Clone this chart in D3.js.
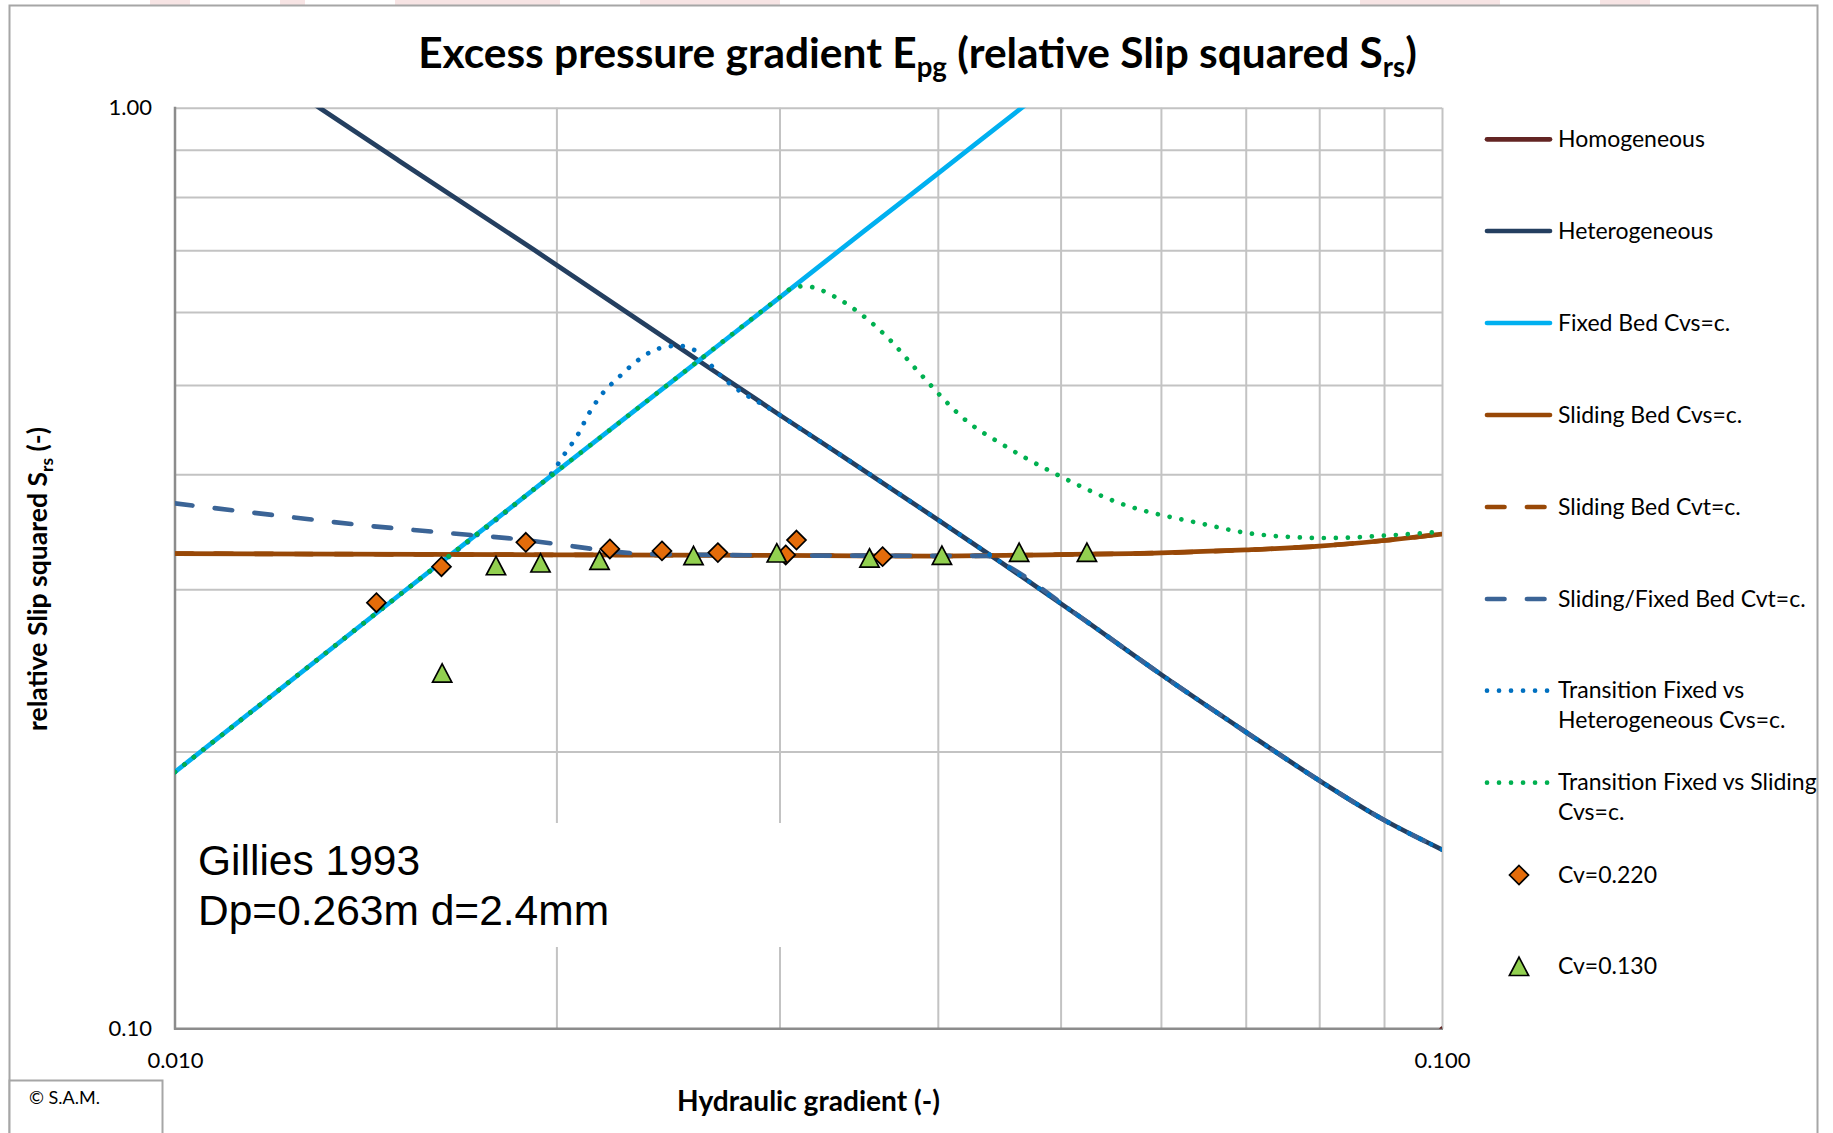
<!DOCTYPE html>
<html><head><meta charset="utf-8">
<script src="https://cdn.jsdelivr.net/npm/d3@7"></script>
<style>
body{margin:0;background:#fff;}
svg{display:block;}
text{font-family:Lato,"Open Sans",sans-serif;fill:#000;}
</style>
</head><body>
<svg id="chart" width="1833" height="1133"></svg>
<script>
// ---------- data ----------
const xDomain = [0.01, 0.1];
const yDomain = [0.1, 1.0];
const xTickValues = [0.01, 0.1];
const xTickLabels = ["0.010", "0.100"];
const yTickValues = [0.1, 1.0];
const yTickLabels = ["0.10", "1.00"];
const xGridValues = [0.02, 0.03, 0.04, 0.05, 0.06, 0.07, 0.08, 0.09, 0.1];
const yGridValues = [0.2, 0.3, 0.4, 0.5, 0.6, 0.7, 0.8, 0.9, 1.0];

const homogeneousX = [0.080, 0.090, 0.100];
const homogeneousY = [0.070, 0.084, 0.100];

const heterogeneousX = [0.0125, 0.0130, 0.0150, 0.0192, 0.0250, 0.0300, 0.0335, 0.0400, 0.0450, 0.0518, 0.0600, 0.0700, 0.0800, 0.0900, 0.1000];
const heterogeneousY = [1.037, 1.000, 0.877, 0.701, 0.549, 0.464, 0.420, 0.357, 0.320, 0.280, 0.2425, 0.210, 0.186, 0.1685, 0.1565];

const fixedBedX = [0.010, 0.015, 0.020, 0.025, 0.030, 0.035, 0.040, 0.0466, 0.050];
const fixedBedY = [0.190, 0.295, 0.4025, 0.5115, 0.622, 0.735, 0.848, 1.000, 1.078];

const slidingCvsX = [0.010, 0.020, 0.030, 0.040, 0.050, 0.060, 0.070, 0.080, 0.090, 0.100];
const slidingCvsY = [0.328, 0.327, 0.3265, 0.326, 0.3272, 0.3285, 0.331, 0.3342, 0.3389, 0.3444];

const slidingCvtX = [0.010, 0.020, 0.030, 0.040, 0.050, 0.060, 0.070, 0.080, 0.090, 0.100];
const slidingCvtY = [0.328, 0.327, 0.3265, 0.326, 0.3272, 0.3285, 0.331, 0.3342, 0.3389, 0.3444];

const slidingFixedCvtX = [0.0100, 0.0122, 0.0141, 0.0163, 0.0189, 0.0207, 0.0222, 0.0240, 0.0300, 0.0400, 0.0437, 0.0450, 0.0518, 0.0600, 0.0700, 0.0800, 0.0900, 0.1000];
const slidingFixedCvtY = [0.3718, 0.360, 0.352, 0.3456, 0.3393, 0.3338, 0.3296, 0.3275, 0.3265, 0.3262, 0.3262, 0.320, 0.280, 0.2425, 0.210, 0.186, 0.1685, 0.1565];

const transFixedHetX = [0.0100, 0.0150, 0.0190, 0.0198, 0.0203, 0.0208, 0.0212, 0.0217, 0.0224, 0.0231, 0.0239, 0.0244, 0.0250, 0.0255, 0.0260, 0.0263, 0.0268, 0.0300, 0.0335, 0.0400, 0.0450, 0.0518, 0.0600, 0.0700, 0.0800, 0.0900, 0.1000];
const transFixedHetY = [0.190, 0.295, 0.381, 0.400, 0.4207, 0.4418, 0.4646, 0.4876, 0.5097, 0.5296, 0.5455, 0.550, 0.5514, 0.548, 0.540, 0.531, 0.516, 0.464, 0.420, 0.357, 0.320, 0.280, 0.2425, 0.210, 0.186, 0.1685, 0.1565];

const transFixedSlidX = [0.010, 0.015, 0.020, 0.025, 0.030, 0.0307, 0.0314, 0.0321, 0.0327, 0.0334, 0.0366, 0.0386, 0.0424, 0.0444, 0.0496, 0.0557, 0.0643, 0.0717, 0.0813, 0.0900, 0.1000];
const transFixedSlidY = [0.190, 0.295, 0.4025, 0.5115, 0.622, 0.637, 0.640, 0.6366, 0.6297, 0.620, 0.561, 0.517, 0.454, 0.4356, 0.400, 0.372, 0.354, 0.344, 0.341, 0.343, 0.3465];

const cv220X = [0.01442, 0.01623, 0.01892, 0.02204, 0.02423, 0.02682, 0.03034, 0.03094, 0.03618];
const cv220Y = [0.2901, 0.3174, 0.3374, 0.3318, 0.3302, 0.3288, 0.3269, 0.3393, 0.3255];

const cv130X = [0.01625, 0.01792, 0.01943, 0.02163, 0.02566, 0.02985, 0.03533, 0.04030, 0.04637, 0.05245];
const cv130Y = [0.2431, 0.3180, 0.3202, 0.3223, 0.3261, 0.3283, 0.3242, 0.3263, 0.3288, 0.3288];

const seriesNames = ["Homogeneous", "Heterogeneous", "Fixed Bed Cvs=c.", "Sliding Bed Cvs=c.", "Sliding Bed Cvt=c.",
  "Sliding/Fixed Bed Cvt=c.", ["Transition Fixed vs", "Heterogeneous Cvs=c."], ["Transition Fixed vs Sliding", "Cvs=c."],
  "Cv=0.220", "Cv=0.130"];

// ---------- layout ----------
const svg = d3.select("#chart");
const W = 1833, H = 1133;
const plot = {left: 175, right: 1442, top: 107.7, bottom: 1028.7};
const x = d3.scaleLog().domain(xDomain).range([plot.left, plot.right]);
const y = d3.scaleLog().domain(yDomain).range([plot.bottom, plot.top]);

function zip(xs, ys) { return xs.map((v, i) => [v, ys[i]]); }
function fitWidth(sel, target) {
  const l = sel.node().getComputedTextLength();
  const fs = parseFloat(sel.style("font-size"));
  sel.style("font-size", (fs * target / l) + "px");
}

// background + faint watermark at top
svg.append("rect").attr("width", W).attr("height", H).attr("fill", "#fff");
const wm = [[150,190],[280,305],[395,560],[640,780],[1360,1500],[1600,1650]];
svg.append("g").selectAll("rect").data(wm).join("rect")
  .attr("x", d => d[0]).attr("y", 0).attr("width", d => d[1]-d[0]).attr("height", 6)
  .attr("fill", "#f7e4e4");

// outer frame
svg.append("rect").attr("x", 9.5).attr("y", 5.5).attr("width", 1808).attr("height", 1150)
  .attr("fill", "#fff").attr("stroke", "#a6a6a6").attr("stroke-width", 2);

// gridlines
const gridX = d3.axisBottom(x).tickValues(xGridValues).tickSize(-(plot.bottom - plot.top)).tickFormat("");
svg.append("g").attr("transform", `translate(0,${plot.bottom})`).call(gridX)
  .call(g => g.select(".domain").remove())
  .call(g => g.selectAll("line").attr("stroke", "#c3c3c3").attr("stroke-width", 2));
const gridY = d3.axisLeft(y).tickValues(yGridValues).tickSize(-(plot.right - plot.left)).tickFormat("");
svg.append("g").attr("transform", `translate(${plot.left},0)`).call(gridY)
  .call(g => g.select(".domain").remove())
  .call(g => g.selectAll("line").attr("stroke", "#c3c3c3").attr("stroke-width", 2));

// text box background (covers gridlines)
svg.append("rect").attr("x", 186).attr("y", 823).attr("width", 720).attr("height", 124).attr("fill", "#fff");

// axes lines
svg.append("line").attr("x1", plot.left).attr("x2", plot.left).attr("y1", plot.top - 1).attr("y2", plot.bottom + 1)
  .attr("stroke", "#8c8c8c").attr("stroke-width", 2.5);
svg.append("line").attr("x1", plot.left - 1).attr("x2", plot.right + 1).attr("y1", plot.bottom).attr("y2", plot.bottom)
  .attr("stroke", "#8c8c8c").attr("stroke-width", 2.5);

// tick labels
const xAxis = d3.axisBottom(x).tickValues(xTickValues).tickSize(0).tickPadding(24)
  .tickFormat((d, i) => xTickLabels[i]);
svg.append("g").attr("transform", `translate(0,${plot.bottom})`).call(xAxis)
  .call(g => g.select(".domain").remove())
  .call(g => g.selectAll("text").style("font-family", "Lato").style("font-size", "22px").attr("fill", "#000"));
const yAxis = d3.axisLeft(y).tickValues(yTickValues).tickSize(0).tickPadding(23)
  .tickFormat((d, i) => yTickLabels[i]);
svg.append("g").attr("transform", `translate(${plot.left},0)`).call(yAxis)
  .call(g => g.select(".domain").remove())
  .call(g => g.selectAll("text").style("font-family", "Lato").style("font-size", "22px").attr("fill", "#000"));

// clip
svg.append("clipPath").attr("id", "clip").append("rect")
  .attr("x", plot.left).attr("y", plot.top).attr("width", plot.right - plot.left).attr("height", plot.bottom - plot.top);

const line = d3.line().x(d => x(d[0])).y(d => y(d[1])).curve(d3.curveMonotoneX);

const DOT = "0.01 12", DASH = "17.5 22.5";
const lineSeries = [
  {name: seriesNames[0], data: zip(homogeneousX, homogeneousY), color: "#632523", dash: null},
  {name: seriesNames[1], data: zip(heterogeneousX, heterogeneousY), color: "#243f60", dash: null},
  {name: seriesNames[2], data: zip(fixedBedX, fixedBedY), color: "#00b0f0", dash: null},
  {name: seriesNames[3], data: zip(slidingCvsX, slidingCvsY), color: "#984807", dash: null},
  {name: seriesNames[4], data: zip(slidingCvtX, slidingCvtY), color: "#984807", dash: DASH},
  {name: seriesNames[5], data: zip(slidingFixedCvtX, slidingFixedCvtY), color: "#3b6496", dash: DASH},
  {name: seriesNames[6], data: zip(transFixedHetX, transFixedHetY), color: "#0070c0", dash: DOT},
  {name: seriesNames[7], data: zip(transFixedSlidX, transFixedSlidY), color: "#00b050", dash: DOT},
];

const gLines = svg.append("g").attr("clip-path", "url(#clip)");
lineSeries.forEach(s => {
  gLines.append("path").datum(s.data).attr("d", line)
    .attr("fill", "none").attr("stroke", s.color).attr("stroke-width", 4.7)
    .attr("stroke-linecap", "round").attr("stroke-linejoin", "round")
    .attr("stroke-dasharray", s.dash);
});

// markers
const diamond = "M0,-9.5L9.5,0L0,9.5L-9.5,0Z";
const triangle = "M0,-9.5L9.6,8.8L-9.6,8.8Z";
const markerSeries = [
  {name: seriesNames[8], data: zip(cv220X, cv220Y), fill: "#e46c0a", shape: diamond},
  {name: seriesNames[9], data: zip(cv130X, cv130Y), fill: "#92d050", shape: triangle},
];
markerSeries.forEach(s => {
  svg.append("g").selectAll("path").data(s.data).join("path")
    .attr("d", s.shape).attr("transform", d => `translate(${x(d[0])},${y(d[1])})`)
    .attr("fill", s.fill).attr("stroke", "#000").attr("stroke-width", 1.7).attr("stroke-linejoin", "miter");
});

// Gillies text box
const gt = svg.append("text").style("font-family", "'Liberation Sans',Arial,sans-serif").style("font-size", "42.5px");
gt.append("tspan").attr("x", 198).attr("y", 875).text("Gillies 1993");
gt.append("tspan").attr("x", 198).attr("y", 925).text("Dp=0.263m d=2.4mm");

// title
const title = svg.append("text").attr("x", 917.5).attr("y", 68).attr("text-anchor", "middle")
  .style("font-weight", "bold").style("font-size", "37px");
title.append("tspan").text("Excess pressure gradient E");
title.append("tspan").attr("dy", 9).style("font-size", "0.65em").text("pg");
title.append("tspan").attr("dy", -9).text(" (relative Slip squared S");
title.append("tspan").attr("dy", 9).style("font-size", "0.65em").text("rs");
title.append("tspan").attr("dy", -9).text(")");
fitWidth(title, 999);

// axis titles
const xt = svg.append("text").attr("x", 808.5).attr("y", 1111).attr("text-anchor", "middle")
  .style("font-weight", "bold").style("font-size", "24px").text("Hydraulic gradient (-)");
fitWidth(xt, 263);
const yt = svg.append("text").attr("transform", "translate(47,579) rotate(-90)").attr("text-anchor", "middle")
  .style("font-weight", "bold").style("font-size", "24px");
yt.append("tspan").text("relative Slip squared S");
yt.append("tspan").attr("dy", 6).style("font-size", "0.65em").text("rs");
yt.append("tspan").attr("dy", -6).text(" (-)");
fitWidth(yt, 304);

// copyright box
svg.append("rect").attr("x", 9.5).attr("y", 1080.5).attr("width", 153).attr("height", 70)
  .attr("fill", "#fff").attr("stroke", "#a6a6a6").attr("stroke-width", 2);
svg.append("text").attr("x", 29).attr("y", 1104).style("font-size", "18px").text("© S.A.M.");

// legend
const legY = [139.3, 231, 323, 415, 507, 599, 690.7, 782.7, 875, 966.7];
const legend = svg.append("g");
const lx1 = 1487, lx2 = 1550, tx = 1558;
lineSeries.forEach((s, i) => {
  const yy = legY[i];
  legend.append("line").attr("x1", lx1).attr("x2", s.dash === DOT ? 1549 : lx2).attr("y1", yy).attr("y2", yy)
    .attr("stroke", s.color).attr("stroke-width", 4.7).attr("stroke-linecap", "round")
    .attr("stroke-dasharray", s.dash);
  const t = legend.append("text").style("font-size", "23px");
  if (Array.isArray(s.name)) {
    t.append("tspan").attr("x", tx).attr("y", yy + 7.6).text(s.name[0]);
    t.append("tspan").attr("x", tx).attr("y", yy + 37.6).text(s.name[1]);
  } else {
    t.attr("x", tx).attr("y", yy + 7.6).text(s.name);
  }
});
markerSeries.forEach((s, j) => {
  const yy = legY[8 + j];
  legend.append("path").attr("d", s.shape).attr("transform", `translate(1519,${yy})`)
    .attr("fill", s.fill).attr("stroke", "#000").attr("stroke-width", 1.7);
  legend.append("text").attr("x", tx).attr("y", yy + 7.6).style("font-size", "23px").text(s.name);
});
</script>
</body></html>
